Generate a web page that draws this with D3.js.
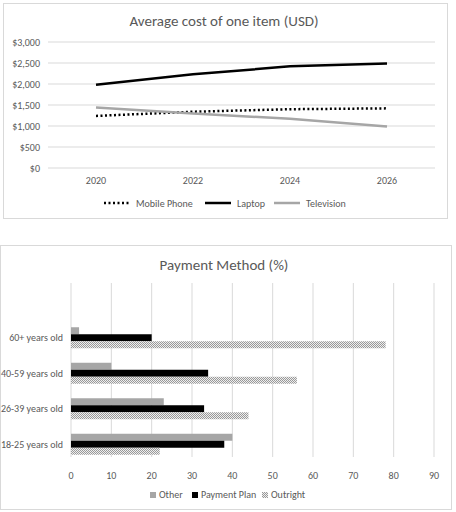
<!DOCTYPE html><html><head><meta charset="utf-8"><script src="https://cdn.jsdelivr.net/npm/d3@7"></script>
<style>body{margin:0;background:#fff}text{font-family:Calibri,Carlito,"Open Sans",sans-serif}</style></head><body>
<svg id="c" width="456" height="512"></svg>
<script>
const years=["2020","2022","2024","2026"];
const mobile=[1240,1340,1400,1420];
const laptop=[1980,2230,2420,2490];
const tv=[1440,1300,1170,990];
const yTicks=[0,500,1000,1500,2000,2500,3000];
const ages=["60+ years old","40-59 years old","26-39 years old","18-25 years old"];
const other=[2,10,23,40];
const plan=[20,34,33,38];
const outright=[78,56,44,22];
const xTicks=[0,10,20,30,40,50,60,70,80,90];

const svg=d3.select("#c");
const defs=svg.append("defs");
const p=defs.append("pattern").attr("id","dots").attr("width",2).attr("height",2).attr("patternUnits","userSpaceOnUse");
p.append("rect").attr("width",2).attr("height",2).attr("fill","#eee");
p.append("rect").attr("width",1).attr("height",1).attr("fill","#999");
p.append("rect").attr("x",1).attr("y",1).attr("width",1).attr("height",1).attr("fill","#999");

// Chart 1
svg.append("rect").attr("x",3.5).attr("y",3.5).attr("width",444).attr("height",215).attr("fill","#fff").attr("stroke","#d9d9d9");
svg.append("text").attr("x",224).attr("y",26).attr("text-anchor","middle").attr("font-size",15).attr("fill","#595959").text("Average cost of one item (USD)");
const x1=d3.scalePoint().domain(years).range([96,387]);
const y1=d3.scaleLinear().domain([0,3000]).range([168,42]);
const g1=svg.append("g");
g1.selectAll("line.g").data(yTicks).join("line").attr("x1",48).attr("x2",435).attr("y1",d=>y1(d)).attr("y2",d=>y1(d)).attr("stroke","#d9d9d9");
g1.selectAll("text.y").data(yTicks).join("text").attr("x",40).attr("y",d=>y1(d)+3.5).attr("text-anchor","end").attr("font-size",10).attr("fill","#595959").text(d=>d3.format("$,")(d));
g1.selectAll("text.x").data(years).join("text").attr("x",d=>x1(d)).attr("y",184).attr("text-anchor","middle").attr("font-size",10).attr("fill","#595959").text(d=>d);
const line=d3.line().x((d,i)=>x1(years[i])).y(d=>y1(d));
const series=[{n:"Mobile Phone",v:mobile,c:"#000",dash:"2,2.5",w:2.5},{n:"Laptop",v:laptop,c:"#000",dash:null,w:2.5},{n:"Television",v:tv,c:"#a6a6a6",dash:null,w:2.5}];
series.forEach(s=>g1.append("path").attr("d",line(s.v)).attr("fill","none").attr("stroke",s.c).attr("stroke-width",s.w).attr("stroke-dasharray",s.dash));
const lx=[104,205,274];
series.forEach((s,i)=>{g1.append("line").attr("x1",lx[i]).attr("x2",lx[i]+26).attr("y1",203).attr("y2",203).attr("stroke",s.c).attr("stroke-width",2.5).attr("stroke-dasharray",s.dash);
g1.append("text").attr("x",lx[i]+32).attr("y",207).attr("font-size",10).attr("fill","#595959").text(s.n);});

// Chart 2
svg.append("rect").attr("x",0.5).attr("y",245.5).attr("width",451).attr("height",264).attr("fill","#fff").attr("stroke","#d9d9d9");
svg.append("text").attr("x",224).attr("y",270).attr("text-anchor","middle").attr("font-size",15).attr("fill","#595959").text("Payment Method (%)");
const x2=d3.scaleLinear().domain([0,90]).range([71,434]);
const y2=d3.scaleBand().domain(ages).range([320,462]);
const sub=d3.scaleBand().domain(["o","p","r"]).range([0,21]);
const g2=svg.append("g");
g2.selectAll("line").data(xTicks).join("line").attr("x1",d=>x2(d)).attr("x2",d=>x2(d)).attr("y1",283).attr("y2",457).attr("stroke","#d9d9d9");
g2.selectAll("text.x").data(xTicks).join("text").attr("x",d=>x2(d)).attr("y",479).attr("text-anchor","middle").attr("font-size",10).attr("fill","#595959").text(d=>d);
g2.selectAll("text.c").data(ages).join("text").attr("x",63).attr("y",d=>y2(d)+y2.bandwidth()/2+3.5).attr("text-anchor","end").attr("font-size",10).attr("fill","#595959").text(d=>d);
const bs=[{k:"o",v:other,f:"#a6a6a6",n:"Other"},{k:"p",v:plan,f:"#000",n:"Payment Plan"},{k:"r",v:outright,f:"url(#dots)",n:"Outright"}];
bs.forEach(b=>g2.selectAll(null).data(ages).join("rect").attr("x",x2(0)).attr("y",(d,i)=>y2(d)+(y2.bandwidth()-21)/2+sub(b.k)).attr("width",(d,i)=>x2(b.v[i])-x2(0)).attr("height",sub.bandwidth()).attr("fill",b.f));
const lx2=[150,192,262];
bs.forEach((b,i)=>{g2.append("rect").attr("x",lx2[i]).attr("y",492).attr("width",6).attr("height",6).attr("fill",b.f);
g2.append("text").attr("x",lx2[i]+9).attr("y",498).attr("font-size",10).attr("fill","#595959").text(b.n);});
</script></body></html>
